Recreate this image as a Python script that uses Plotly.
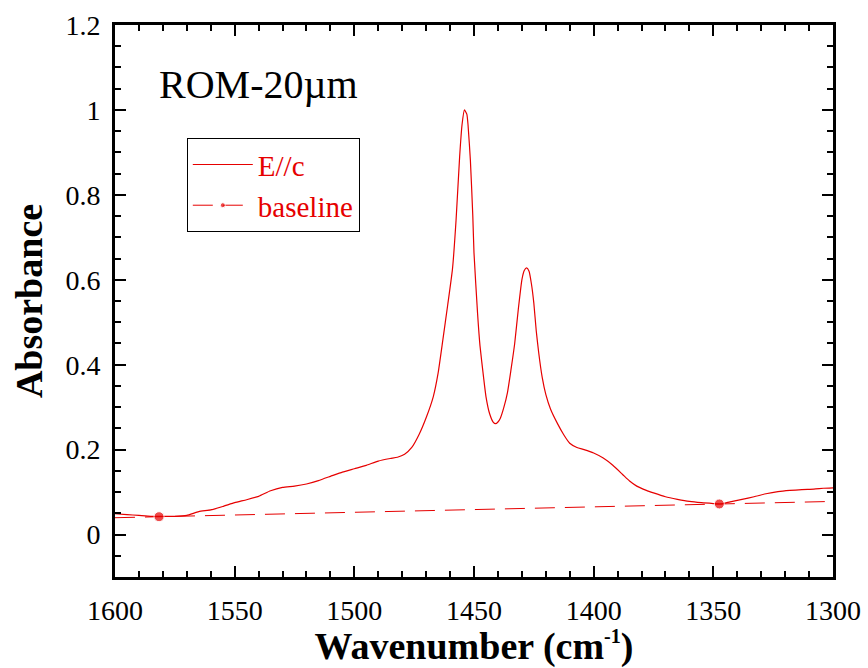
import plotly.graph_objects as go

# Spectrum E//c
wavenumber = [1600, 1595, 1590, 1585, 1580, 1575, 1570, 1565, 1560, 1555, 1550, 1545, 1540,
              1535, 1530, 1525, 1520, 1515, 1510, 1505, 1500, 1495, 1490, 1485, 1482, 1479,
              1476, 1473, 1470, 1467, 1465, 1463, 1461, 1459, 1457.5, 1456, 1455, 1454,
              1453, 1452.5, 1451.5, 1450.5, 1450, 1448.5, 1447.5, 1446, 1445, 1443.5, 1442,
              1441, 1440, 1439, 1437.5, 1436, 1434.5, 1433, 1431.5, 1430, 1429, 1428, 1427,
              1426, 1425, 1424, 1423, 1421.5, 1420, 1418, 1415, 1412.5, 1410, 1407, 1404,
              1400, 1396, 1392, 1388, 1385, 1382, 1378, 1375, 1370, 1365, 1360, 1355, 1350, 1347,
              1343, 1338, 1333, 1328, 1323, 1318, 1313, 1308, 1304, 1300]
absorbance = [0.049, 0.047, 0.045, 0.043, 0.043, 0.043, 0.045, 0.054, 0.058, 0.066, 0.075, 0.082,
              0.090, 0.103, 0.111, 0.114, 0.119, 0.127, 0.137, 0.147, 0.155, 0.163, 0.173,
              0.179, 0.182, 0.189, 0.205, 0.235, 0.275, 0.325, 0.38, 0.459, 0.54, 0.625,
              0.74, 0.89, 0.965, 1.0, 0.99, 0.965, 0.88, 0.75, 0.663, 0.52, 0.445, 0.37,
              0.325, 0.285, 0.265, 0.261, 0.265, 0.274, 0.30, 0.335, 0.39, 0.45, 0.53, 0.6,
              0.622, 0.628, 0.62, 0.59, 0.545, 0.48, 0.43, 0.37, 0.33, 0.295, 0.26, 0.235,
              0.215, 0.205, 0.2, 0.192, 0.18, 0.163, 0.142, 0.126, 0.114, 0.104, 0.098, 0.089,
              0.083, 0.078, 0.075, 0.073, 0.072, 0.077, 0.083, 0.089, 0.096, 0.101, 0.104,
              0.106, 0.107, 0.109, 0.11]

# Baseline (anchor points at 1581.6 and 1347.5)
baseline_x = [1600, 1581.6, 1347.5, 1300]
baseline_y = [0.0396, 0.042, 0.072, 0.078]
baseline_marker_size = [0, 10, 10, 0]

x_ticks = [1600, 1550, 1500, 1450, 1400, 1350, 1300]
y_ticks = [0, 0.2, 0.4, 0.6, 0.8, 1, 1.2]

RED = "rgb(230,0,0)"
FONT = "Liberation Serif"

fig = go.Figure()
fig.add_trace(go.Scatter(
    x=wavenumber, y=absorbance, mode="lines", name="E//c",
    line=dict(color=RED, width=1.2, shape="spline", smoothing=0.5),
))
fig.add_trace(go.Scatter(
    x=baseline_x, y=baseline_y, mode="lines+markers", name="baseline",
    line=dict(color=RED, width=1, dash="20px,10px"),
    marker=dict(color=RED, size=baseline_marker_size, symbol="circle"),
))

fig.add_annotation(
    x=1582.4, y=1.059, xref="x", yref="y", text="ROM-20µm", showarrow=False,
    xanchor="left", yanchor="middle", font=dict(family=FONT, size=40, color="black"),
)

axis_common = dict(
    showline=True, linecolor="black", linewidth=3, mirror="allticks",
    ticks="inside", ticklen=11, tickwidth=2, tickcolor="black",
    showgrid=False, zeroline=False, automargin=False,
    tickfont=dict(family=FONT, size=28, color="black"),
)

fig.update_xaxes(
    range=[1600, 1300], tickvals=x_ticks, title=dict(
        text="<b>Wavenumber (cm<sup><span style='font-size:20px'>-1</span></sup>)</b>",
        font=dict(family=FONT, size=38, color="black"), standoff=4),
    minor=dict(ticks="inside", ticklen=6, tickwidth=2, tickcolor="black", dtick=10, showgrid=False),
    ticklabelstandoff=6,
    **axis_common,
)
fig.update_yaxes(
    range=[-0.1, 1.2], tickvals=y_ticks, title=dict(
        text="<b>Absorbance</b>",
        font=dict(family=FONT, size=38, color="black"), standoff=12),
    minor=dict(ticks="inside", ticklen=6, tickwidth=2, tickcolor="black", dtick=0.05, tick0=0, showgrid=False),
    ticklabelstandoff=6,
    **axis_common,
)

fig.update_layout(
    width=868, height=668,
    margin=dict(l=115, r=35, t=25, b=91),
    paper_bgcolor="white", plot_bgcolor="white",
    showlegend=True,
    legend=dict(
        x=0.1, y=0.795, xanchor="left", yanchor="top",
        bordercolor="black", borderwidth=1, bgcolor="white",
        font=dict(family=FONT, size=29, color=RED),
        tracegroupgap=0, itemwidth=60,
    ),
)

fig.write_html("out.html")
